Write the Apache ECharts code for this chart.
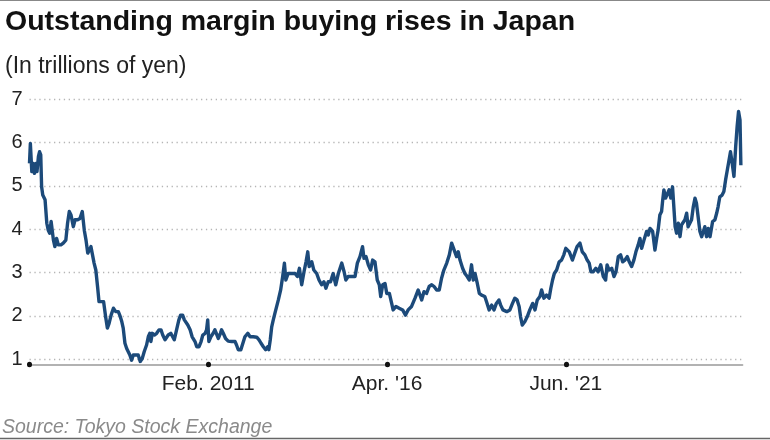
<!DOCTYPE html>
<html>
<head>
<meta charset="utf-8">
<title>Outstanding margin buying rises in Japan</title>
<script src="https://cdn.jsdelivr.net/npm/echarts@6.0.0/dist/echarts.min.js"></script>
<style>
  html, body { margin: 0; padding: 0; background: #fff; }
  #chart { width: 770px; height: 440px; }
</style>
</head>
<body>
<div id="chart"></div>
<script>
// x = months since Dec. 2005, y = outstanding margin buying (trillions of yen)
const margin = [
  [0, 5.52], [0.3, 5.98], [0.5, 6.0], [0.8, 5.33], [1.3, 5.52], [1.7, 5.29], [2.3, 5.52], [2.6, 5.33],
  [3.1, 5.68], [3.5, 5.79], [3.9, 5.72], [4.2, 4.98], [4.6, 4.79], [5.4, 4.68], [6.0, 4.14], [6.5, 3.98],
  [7.0, 3.91], [7.5, 4.18], [7.9, 4.22], [8.3, 3.75], [8.8, 3.6], [9.4, 3.79], [10.0, 3.64], [10.9, 3.64],
  [11.7, 3.68], [12.6, 3.75], [13.2, 4.14], [13.8, 4.41], [14.4, 4.33], [15.2, 4.06], [15.8, 4.22],
  [16.7, 4.22], [17.5, 4.25], [18.3, 4.41], [19.0, 3.98], [19.6, 3.75], [20.2, 3.45], [20.7, 3.41],
  [21.3, 3.6], [21.9, 3.56], [22.4, 3.22], [23.0, 3.06], [23.6, 2.68], [24.1, 2.33], [25.0, 2.33],
  [25.7, 2.33], [26.4, 1.98], [27.0, 1.72], [27.6, 1.83], [28.3, 2.02], [29.1, 2.18], [29.9, 2.1],
  [30.8, 2.1], [31.4, 2.0], [32.0, 1.87], [32.5, 1.72], [33.1, 1.37], [33.7, 1.25], [34.3, 1.22],
  [34.8, 1.1], [35.4, 0.98], [36.0, 1.1], [36.8, 1.1], [37.7, 1.1], [38.4, 0.95], [39.1, 1.02],
  [39.8, 1.18], [40.6, 1.33], [41.2, 1.52], [41.7, 1.6], [42.1, 1.41], [42.6, 1.6], [43.3, 1.56],
  [44.1, 1.6], [44.9, 1.68], [45.6, 1.68], [46.2, 1.56], [47.0, 1.45], [47.6, 1.41], [48.1, 1.56],
  [49.0, 1.6], [49.5, 1.6], [50.2, 1.45], [51.0, 1.68], [51.8, 1.91], [52.4, 2.02], [53.1, 2.02],
  [53.7, 1.91], [54.3, 1.91], [54.9, 1.79], [55.7, 1.68], [56.4, 1.52], [57.4, 1.41], [58.0, 1.29],
  [58.8, 1.29], [59.5, 1.41], [60.1, 1.56], [60.9, 1.6], [61.4, 1.68], [61.8, 1.91], [62.2, 1.41],
  [62.9, 1.52], [63.7, 1.6], [64.3, 1.68], [64.9, 1.64], [65.5, 1.48], [66.2, 1.6], [66.6, 1.68],
  [67.2, 1.6], [68.0, 1.48], [68.9, 1.42], [70.1, 1.41], [71.3, 1.41], [71.8, 1.33], [72.4, 1.22],
  [73.3, 1.22], [74.0, 1.37], [74.7, 1.52], [75.7, 1.6], [76.5, 1.52], [77.6, 1.52], [78.8, 1.51],
  [79.6, 1.45], [80.3, 1.37], [81.1, 1.29], [81.9, 1.22], [82.6, 1.29], [83.0, 1.22], [83.5, 1.45],
  [84.0, 1.75], [84.5, 1.9], [85.1, 2.06], [86.3, 2.37], [87.1, 2.6], [87.8, 2.91], [88.4, 3.22],
  [88.9, 2.83], [89.7, 2.98], [90.9, 2.98], [92.1, 2.98], [92.9, 2.91], [93.6, 3.1], [94.4, 2.72],
  [95.2, 3.02], [95.9, 3.25], [96.5, 3.48], [97.0, 3.14], [97.9, 3.25], [98.6, 3.06], [99.6, 2.98],
  [100.4, 2.83], [101.3, 2.72], [102.1, 2.79], [102.8, 2.64], [103.6, 2.79], [104.4, 2.79],
  [105.3, 2.98], [106.2, 2.72], [107.1, 2.98], [108.3, 3.22], [109.1, 3.02], [109.7, 2.83],
  [110.5, 2.91], [111.7, 2.91], [112.9, 2.91], [113.7, 3.22], [114.6, 3.37], [115.5, 3.6],
  [116.0, 3.33], [116.7, 3.37], [117.5, 3.18], [118.3, 3.06], [119.0, 3.29], [119.8, 3.25],
  [120.6, 2.83], [121.3, 2.72], [121.8, 2.45], [122.5, 2.72], [123.3, 2.75], [123.9, 2.52],
  [124.8, 2.52], [125.6, 2.29], [126.1, 2.14], [127.1, 2.22], [128.2, 2.18], [129.4, 2.14],
  [130.4, 2.02], [131.3, 2.14], [132.5, 2.22], [133.7, 2.41], [134.8, 2.6], [136.0, 2.37],
  [136.8, 2.56], [137.7, 2.52], [138.6, 2.68], [139.5, 2.72], [140.3, 2.68], [141.2, 2.6],
  [142.1, 2.6], [142.9, 2.87], [143.7, 3.06], [144.7, 3.22], [145.6, 3.41], [146.4, 3.68],
  [147.0, 3.64], [147.5, 3.48], [148.1, 3.37], [148.7, 3.48], [149.3, 3.29], [150.2, 3.1],
  [151.0, 2.98], [151.8, 2.91], [152.5, 2.83], [153.3, 3.18], [153.9, 2.83], [154.5, 2.98],
  [155.3, 2.75], [156.0, 2.52], [156.8, 2.48], [157.9, 2.45], [158.5, 2.33], [159.4, 2.14],
  [160.3, 2.25], [161.1, 2.14], [161.9, 2.29], [162.8, 2.37], [163.4, 2.25], [164.2, 2.14],
  [165.5, 2.1], [166.6, 2.14], [167.5, 2.29], [168.3, 2.41], [169.1, 2.37], [169.8, 2.22],
  [170.3, 1.98], [170.9, 1.79], [171.8, 1.87], [172.6, 1.98], [173.5, 2.14], [174.5, 2.29],
  [175.3, 2.14], [176.1, 2.37], [177.0, 2.45], [177.6, 2.6], [178.4, 2.41], [179.3, 2.48],
  [180.2, 2.41], [180.8, 2.64], [181.4, 2.83], [182.0, 2.98], [182.8, 3.06], [183.7, 3.25],
  [184.5, 3.29], [185.3, 3.41], [186.0, 3.56], [186.6, 3.6], [187.2, 3.48], [187.8, 3.52],
  [188.3, 3.29], [189.1, 3.45], [189.9, 3.6], [190.9, 3.68], [191.7, 3.48], [192.6, 3.41],
  [193.4, 3.29], [194.1, 3.22], [194.7, 3.02], [195.5, 3.02], [196.4, 3.1], [197.2, 3.02],
  [198.1, 3.18], [199.0, 2.91], [199.8, 2.83], [200.3, 3.18], [201.0, 3.06], [201.9, 3.1],
  [202.7, 2.91], [203.4, 3.02], [204.2, 3.37], [205.0, 3.41], [205.7, 3.25], [206.5, 3.29],
  [207.3, 3.37], [208.0, 3.25], [208.8, 3.14], [209.6, 3.29], [210.3, 3.48], [211.1, 3.64],
  [211.7, 3.79], [212.3, 3.56], [213.1, 3.75], [214.0, 3.95], [214.6, 3.87], [215.2, 4.02],
  [216.1, 3.95], [216.9, 3.52], [217.5, 3.79], [218.0, 3.98], [218.6, 4.33], [219.2, 4.41],
  [219.6, 4.68], [220.0, 4.91], [220.6, 4.72], [221.1, 4.75], [221.8, 4.91], [222.4, 4.72],
  [223.0, 4.98], [223.5, 4.98], [223.9, 4.06], [224.4, 3.91], [225.0, 4.14], [225.6, 3.83],
  [226.1, 4.1], [226.7, 4.06], [227.3, 4.22], [227.9, 4.37], [228.4, 4.06], [229.0, 4.02],
  [229.6, 4.22], [230.2, 4.52], [230.8, 4.72], [231.3, 4.6], [231.9, 4.6], [232.5, 3.95],
  [233.1, 3.83], [233.6, 3.87], [234.2, 4.06], [234.8, 3.83], [235.4, 4.02], [236.0, 3.83],
  [236.6, 3.83], [236.9, 4.18], [237.7, 4.22], [238.3, 4.37], [238.8, 4.52], [239.4, 4.75],
  [240.2, 4.79], [240.8, 4.87], [241.4, 5.14], [242.0, 5.37], [242.5, 5.56], [243.1, 5.79],
  [243.7, 5.52], [244.3, 5.22], [244.9, 5.91], [245.4, 6.37], [245.9, 6.72], [246.4, 6.52],
  [246.7, 5.48]
]

// x-axis ticks (months since Dec. 2005) and their labels
const tickMonths = [0, 62, 124, 186]
const tickLabels = ['', 'Feb. 2011', "Apr. '16", "Jun. '21"]
const lastMonth = 247.3

const yTicks = [1, 7]

const font = "'Liberation Sans', Arial, Helvetica, sans-serif"

const chart = echarts.init(document.getElementById('chart'))

const option = {
  backgroundColor: '#fff',
  animation: false,
  title: [
    {
      text: 'Outstanding margin buying rises in Japan',
      left: 5, top: 8, padding: 0,
      textStyle: { fontFamily: font, fontSize: 28.5, fontWeight: 'bold', color: '#111' }
    },
    {
      text: '(In trillions of yen)',
      left: 5, top: 55, padding: 0,
      textStyle: { fontFamily: font, fontSize: 23, fontWeight: 'normal', color: '#222' }
    },
    {
      text: 'Source: Tokyo Stock Exchange',
      left: 2, top: 418, padding: 0,
      textStyle: { fontFamily: font, fontSize: 19.5, fontWeight: 'normal', fontStyle: 'italic', color: '#8a8a8a' }
    }
  ],
  graphic: [
    { type: 'line', shape: { x1: 0, y1: 0.5, x2: 770, y2: 0.5 }, style: { stroke: '#888', lineWidth: 1 } },
    { type: 'line', shape: { x1: 0, y1: 438.5, x2: 770, y2: 438.5 }, style: { stroke: '#666', lineWidth: 1.5 } }
  ],
  grid: {
    left: 29.5,
    right: 27.4,
    top: 99.3,
    bottom: 80.7
  },
  xAxis: {
    type: 'value',
    min: 0,
    max: lastMonth,
    offset: 5,
    axisLine: { lineStyle: { color: '#999', width: 1.5 } },
    axisTick: {
      customValues: tickMonths,
      length: 0.5,
      lineStyle: { color: '#111', width: 5, cap: 'round' }
    },
    axisLabel: {
      customValues: tickMonths,
      margin: 9,
      fontFamily: font,
      fontSize: 21,
      color: '#222',
      formatter: v => tickLabels[tickMonths.indexOf(v)] || ''
    },
    splitLine: { show: false }
  },
  yAxis: {
    type: 'value',
    min: yTicks[0],
    max: yTicks[1],
    interval: 1,
    axisLine: { show: false },
    axisTick: { show: false },
    axisLabel: { margin: 7, fontFamily: font, fontSize: 20, color: '#222' },
    splitLine: { lineStyle: { color: '#b5b5b5', width: 1.3, type: [1.3, 3.6] } }
  },
  series: [
    {
      type: 'line',
      data: margin,
      clip: false,
      symbol: 'none',
      lineStyle: { color: '#1c4a7a', width: 3.4, join: 'round' }
    }
  ]
}

chart.setOption(option)
</script>
</body>
</html>
